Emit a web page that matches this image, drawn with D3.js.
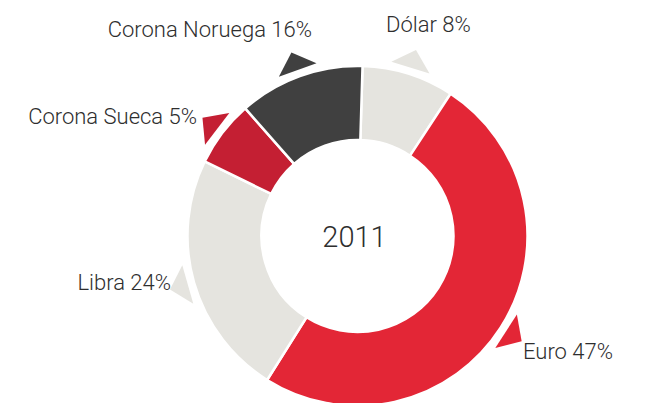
<!DOCTYPE html>
<html>
<head>
<meta charset="utf-8">
<script src="https://cdn.jsdelivr.net/npm/d3@7"></script>
<style>
  html, body { margin: 0; padding: 0; background: #fff; }
  svg { display: block; }
</style>
</head>
<body>
<svg id="chart"></svg>
<script>
// data
const currencies = ["Dólar", "Euro", "Libra", "Corona Sueca", "Corona Noruega"];
const shares = [8, 47, 24, 5, 16];               // printed percentages
const arcValues = [8.75, 49.7, 23.3, 6.3, 11.95]; // slice sizes as drawn
const colors = ["#e5e4df", "#e32636", "#e5e4df", "#c41f33", "#404040"];
const year = "2011";

// label placement (x, y, anchor)
const labelPos = [
  [386, 32, "start"],
  [523, 359, "start"],
  [171, 290, "end"],
  [197, 124, "end"],
  [312, 37, "end"],
];

const width = 652;
const height = 403;
const cx = 357.5;
const cy = 236;
const innerR = 96;
const outerR = 170;

const svg = d3.select("#chart").attr("width", width).attr("height", height);

const data = currencies.map((name, i) => ({
  name,
  share: shares[i],
  value: arcValues[i],
  color: colors[i],
}));

const start = (1.7 * Math.PI) / 180;
const pie = d3
  .pie()
  .sort(null)
  .value((d) => d.value)
  .startAngle(start)
  .endAngle(start + 2 * Math.PI);

const arc = d3.arc().innerRadius(innerR).outerRadius(outerR);

const g = svg.append("g").attr("transform", `translate(${cx},${cy})`);

const arcs = pie(data);

// slices
g.selectAll("path.slice")
  .data(arcs)
  .enter()
  .append("path")
  .attr("class", "slice")
  .attr("d", arc)
  .attr("fill", (d) => d.data.color)
  .attr("stroke", "#fff")
  .attr("stroke-width", 2.5);

// small pointer triangles outside the ring
function pointer(d) {
  const a = (d.startAngle + d.endAngle) / 2;
  const ux = Math.sin(a), uy = -Math.cos(a);
  const tx = Math.cos(a), ty = Math.sin(a);
  const rb = 176.5, rt = 195, hw = 20;
  const p1 = [ux * rb - tx * hw, uy * rb - ty * hw];
  const p2 = [ux * rb + tx * hw, uy * rb + ty * hw];
  const p3 = [ux * rt, uy * rt];
  return `M${p1}L${p2}L${p3}Z`;
}

g.selectAll("path.pointer")
  .data(arcs)
  .enter()
  .append("path")
  .attr("class", "pointer")
  .attr("d", pointer)
  .attr("fill", (d) => d.data.color);

// labels
svg
  .selectAll("text.label")
  .data(data)
  .enter()
  .append("text")
  .attr("class", "label")
  .attr("x", (d, i) => labelPos[i][0])
  .attr("y", (d, i) => labelPos[i][1])
  .attr("text-anchor", (d, i) => labelPos[i][2])
  .attr("font-family", "Roboto, 'Liberation Sans', sans-serif")
  .attr("font-weight", 300)
  .attr("font-size", "22px")
  .attr("fill", "#2e2e2e")
  .text((d) => `${d.name} ${d.share}%`);

// centre year
svg
  .append("text")
  .attr("x", cx - 3)
  .attr("y", cy + 11)
  .attr("text-anchor", "middle")
  .attr("font-family", "Roboto, 'Liberation Sans', sans-serif")
  .attr("font-weight", 300)
  .attr("font-size", "29px")
  .attr("fill", "#2e2e2e")
  .text(year);
</script>
</body>
</html>
